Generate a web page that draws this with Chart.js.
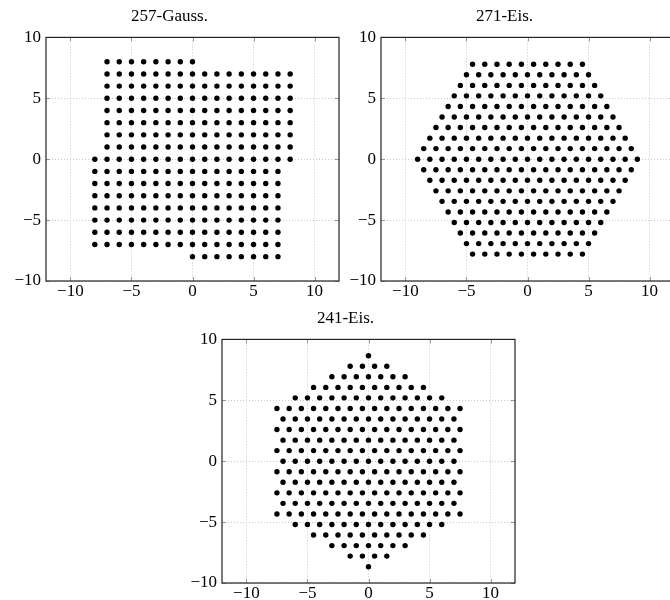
<!DOCTYPE html>
<html>
<head>
<meta charset="utf-8">
<script src="https://cdn.jsdelivr.net/npm/chart.js@4"></script>
<style>
  html, body { margin: 0; padding: 0; background: #fff; overflow: hidden; }
  .panel { position: absolute; width: 345px; height: 300px; }
</style>
</head>
<body>
<div class="panel" style="left:0px;top:0px"><canvas id="gaussChart" width="345" height="300"></canvas></div>
<div class="panel" style="left:335px;top:0px"><canvas id="eis271Chart" width="345" height="300"></canvas></div>
<div class="panel" style="left:176px;top:302px"><canvas id="eis241Chart" width="345" height="300"></canvas></div>
<script>
// tick labels shared by all three panels
const xTickValues = [-10, -5, 0, 5, 10];
const yTickValues = [-10, -5, 0, 5, 10];

// 257-Gauss. : rows of the square lattice
const gTop = [-7, -6, -5, -4, -3, -2, -1, 0];
const gUpper = [-7, -6, -5, -4, -3, -2, -1, 0, 1, 2, 3, 4, 5, 6, 7, 8];
const gMid = [-8, -7, -6, -5, -4, -3, -2, -1, 0, 1, 2, 3, 4, 5, 6, 7, 8];
const gLower = [-8, -7, -6, -5, -4, -3, -2, -1, 0, 1, 2, 3, 4, 5, 6, 7];
const gBottom = [0, 1, 2, 3, 4, 5, 6, 7];
const gaussRowY = [8, 7, 6, 5, 4, 3, 2, 1, 0, -1, -2, -3, -4, -5, -6, -7, -8];
const gaussRowX = [gTop, gUpper, gUpper, gUpper, gUpper, gUpper, gUpper, gUpper, gMid,
  gLower, gLower, gLower, gLower, gLower, gLower, gLower, gBottom];

// Eisenstein rows (x positions)
const e0 = [0];
const e1_5 = [-1.5, -0.5, 0.5, 1.5];
const e3 = [-3, -2, -1, 0, 1, 2, 3];
const e4_5 = [-4.5, -3.5, -2.5, -1.5, -0.5, 0.5, 1.5, 2.5, 3.5, 4.5];
const e5 = [-5, -4, -3, -2, -1, 0, 1, 2, 3, 4, 5];
const e5_5 = [-5.5, -4.5, -3.5, -2.5, -1.5, -0.5, 0.5, 1.5, 2.5, 3.5, 4.5, 5.5];
const e6 = [-6, -5, -4, -3, -2, -1, 0, 1, 2, 3, 4, 5, 6];
const e6_5 = [-6.5, -5.5, -4.5, -3.5, -2.5, -1.5, -0.5, 0.5, 1.5, 2.5, 3.5, 4.5, 5.5, 6.5];
const e7 = [-7, -6, -5, -4, -3, -2, -1, 0, 1, 2, 3, 4, 5, 6, 7];
const e7_5 = [-7.5, -6.5, -5.5, -4.5, -3.5, -2.5, -1.5, -0.5, 0.5, 1.5, 2.5, 3.5, 4.5, 5.5, 6.5, 7.5];
const e8 = [-8, -7, -6, -5, -4, -3, -2, -1, 0, 1, 2, 3, 4, 5, 6, 7, 8];
const e8_5 = [-8.5, -7.5, -6.5, -5.5, -4.5, -3.5, -2.5, -1.5, -0.5, 0.5, 1.5, 2.5, 3.5, 4.5, 5.5, 6.5, 7.5, 8.5];
const e9 = [-9, -8, -7, -6, -5, -4, -3, -2, -1, 0, 1, 2, 3, 4, 5, 6, 7, 8, 9];

// 271-Eis.
const eis271RowY = [7.79, 6.93, 6.06, 5.2, 4.33, 3.46, 2.6, 1.73, 0.87, 0,
  -0.87, -1.73, -2.6, -3.46, -4.33, -5.2, -6.06, -6.93, -7.79];
const eis271RowX = [e4_5, e5, e5_5, e6, e6_5, e7, e7_5, e8, e8_5, e9,
  e8_5, e8, e7_5, e7, e6_5, e6, e5_5, e5, e4_5];

// 241-Eis.
const eis241RowY = [8.66, 7.79, 6.93, 6.06, 5.2, 4.33, 3.46, 2.6, 1.73, 0.87, 0,
  -0.87, -1.73, -2.6, -3.46, -4.33, -5.2, -6.06, -6.93, -7.79, -8.66];
const eis241RowX = [e0, e1_5, e3, e4_5, e6, e7_5, e7, e7_5, e7, e7_5, e7,
  e7_5, e7, e7_5, e7, e7_5, e6, e4_5, e3, e1_5, e0];

const serif = "'Liberation Serif', 'DejaVu Serif', serif";

function toPoints(rowY, rowX) {
  return rowX.flatMap((xs, i) => xs.map(x => ({ x: x, y: rowY[i] })));
}

function fmt(v) {
  return String(v).replace("-", "\u2212");
}

// pgfplots style frame with inward ticks
const framePlugin = {
  id: "frame",
  afterDraw(chart) {
    const { ctx, chartArea: a, scales } = chart;
    ctx.save();
    ctx.strokeStyle = "#999";
    ctx.lineWidth = 1;
    ctx.beginPath();
    xTickValues.forEach(v => {
      const px = Math.round(scales.x.getPixelForValue(v)) + 0.5;
      ctx.moveTo(px, a.bottom); ctx.lineTo(px, a.bottom - 4);
      ctx.moveTo(px, a.top); ctx.lineTo(px, a.top + 4);
    });
    yTickValues.forEach(v => {
      const py = Math.round(scales.y.getPixelForValue(v)) + 0.5;
      ctx.moveTo(a.left, py); ctx.lineTo(a.left + 4, py);
      ctx.moveTo(a.right, py); ctx.lineTo(a.right - 4, py);
    });
    ctx.stroke();
    ctx.strokeStyle = "#222";
    ctx.lineWidth = 1.2;
    ctx.strokeRect(a.left, a.top, a.right - a.left, a.bottom - a.top);
    ctx.restore();
  }
};

function makeChart(id, title, points) {
  const grid = {
    color: "#c8c8c8",
    lineWidth: 1,
    drawTicks: false
  };
  const border = { display: false, dash: [1, 2] };
  return new Chart(document.getElementById(id), {
    type: "scatter",
    data: {
      datasets: [{
        data: points,
        backgroundColor: "#000",
        borderWidth: 0,
        pointRadius: 2.7,
        pointHoverRadius: 2.7
      }]
    },
    options: {
      responsive: false,
      animation: false,
      devicePixelRatio: 1,
      layout: { padding: { left: 0, right: 6, top: 0, bottom: 0 } },
      plugins: {
        legend: { display: false },
        tooltip: { enabled: false },
        title: {
          display: true,
          text: title,
          color: "#000",
          font: { family: serif, size: 17, weight: "normal" },
          padding: { top: 6, bottom: 11 }
        }
      },
      scales: {
        x: {
          type: "linear",
          min: -12,
          max: 12,
          afterBuildTicks: s => { s.ticks = xTickValues.map(v => ({ value: v })); },
          afterFit: s => { s.height = 19; },
          grid: grid,
          border: border,
          ticks: {
            color: "#000",
            padding: 0,
            font: { family: serif, size: 17 },
            callback: fmt,
            maxRotation: 0
          }
        },
        y: {
          type: "linear",
          min: -10,
          max: 10,
          afterBuildTicks: s => { s.ticks = yTickValues.map(v => ({ value: v })); },
          afterFit: s => { s.width = 46; },
          grid: grid,
          border: border,
          ticks: {
            color: "#000",
            padding: 5,
            font: { family: serif, size: 17 },
            callback: fmt
          }
        }
      }
    },
    plugins: [framePlugin]
  });
}

makeChart("gaussChart", "257-Gauss.", toPoints(gaussRowY, gaussRowX));
makeChart("eis271Chart", "271-Eis.", toPoints(eis271RowY, eis271RowX));
makeChart("eis241Chart", "241-Eis.", toPoints(eis241RowY, eis241RowX));
</script>
</body>
</html>
